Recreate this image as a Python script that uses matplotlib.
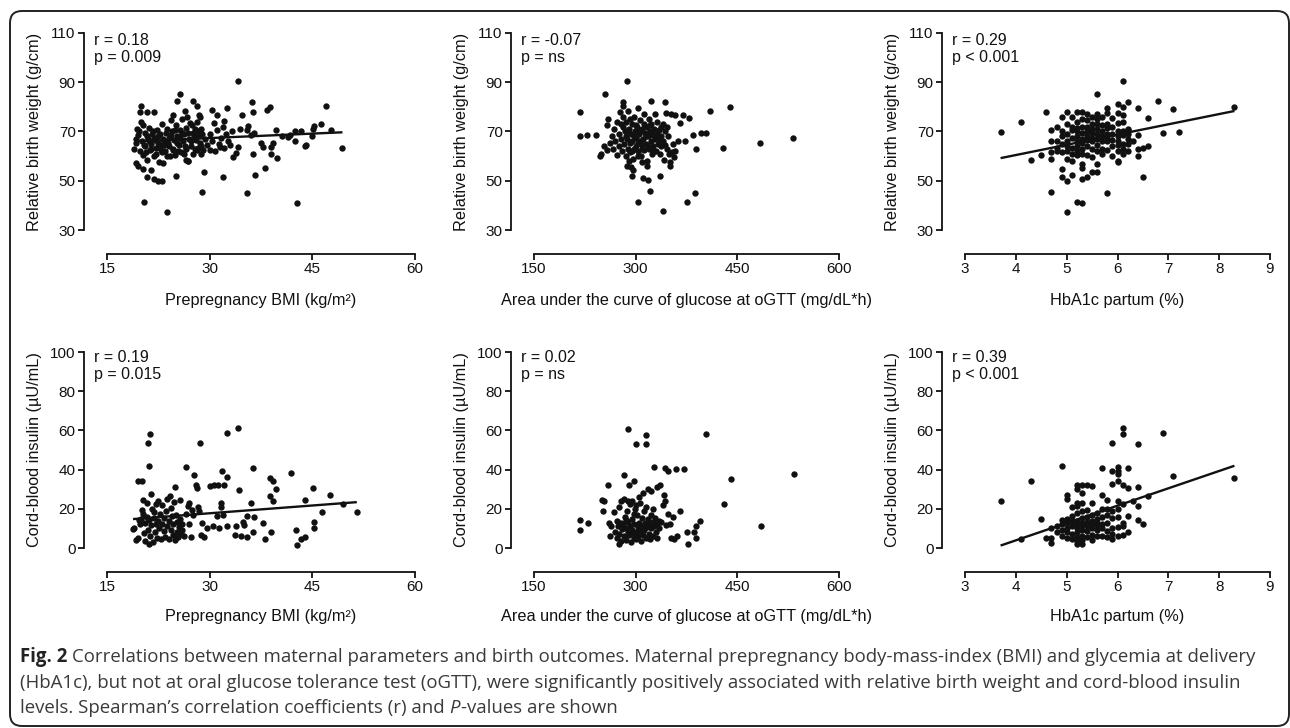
import numpy as np
import matplotlib
matplotlib.use("Agg")
import matplotlib.pyplot as plt
from matplotlib.patches import FancyBboxPatch
from matplotlib.transforms import IdentityTransform

plt.rcParams["font.family"] = ["Liberation Sans", "DejaVu Sans"]

INK = "#111111"

# ---- data: prepregnancy BMI vs relative birth weight ----
bmi_rbw_x = [34.2, 25.6, 25.3, 27.6, 28.1, 20.0, 19.8, 38.8, 38.4, 47.0, 36.2, 36.4, 32.5, 30.3, 34.7,
             20.9, 21.9, 24.7, 26.4, 28.6, 31.0, 32.1, 46.3, 45.2, 45.1, 47.7, 39.7, 42.4, 43.4, 35.6,
             35.4, 34.4, 40.6, 41.5, 41.7, 42.4, 43.9, 44.1, 45.0, 49.4, 39.9, 38.9, 39.0, 39.3, 37.8,
             37.5, 36.3, 38.1, 36.6, 42.7, 35.4, 33.9, 34.1, 33.4, 31.9, 29.1, 28.9, 25.1, 23.7, 20.4,
             20.8, 21.9, 22.5, 23.0, 20.3, 21.5, 19.3, 19.5, 23.2, 26.6, 26.9, 28.8, 31.5, 30.0, 28.1,
             36.0, 36.5,
             19.0, 19.2, 19.4, 19.6, 19.8, 20.0, 20.1, 20.3, 20.5, 20.6, 20.8, 21.0, 21.1, 21.3, 21.5,
             21.6, 21.8, 22.0, 22.1, 22.3, 22.5, 22.6, 22.8, 23.0, 23.1, 23.3, 23.5, 23.6, 23.8, 24.0,
             24.1, 24.3, 24.5, 24.6, 24.8, 25.0, 25.1, 25.3, 25.5, 25.6, 25.8, 26.0, 26.1, 26.3, 26.5,
             26.6, 26.8, 27.0, 27.1, 27.3, 27.5, 27.6, 27.8, 28.0, 28.1, 28.3, 28.5, 28.6, 28.8, 29.0,
             29.3, 29.6, 30.0, 30.3, 30.6, 30.8, 31.1, 31.3, 31.6, 31.9, 32.1, 32.4, 32.7, 33.0, 33.3,
             19.3, 19.7, 20.2, 20.4, 20.7, 20.9, 21.2, 21.4, 21.7, 21.9, 22.2, 22.4, 22.7, 22.9, 23.2,
             23.4, 23.7, 23.9, 24.2, 24.4, 24.7, 24.9, 25.2, 25.4, 25.7, 25.9, 26.2, 26.4, 26.7, 26.9,
             27.2, 27.4, 27.7, 27.9, 28.2, 28.4, 28.7, 28.9]
bmi_rbw_y = [90.6, 85.2, 82.5, 82.2, 80.4, 80.2, 78.1, 79.9, 78.8, 80.4, 81.8, 77.9, 79.5, 78.8, 76.5,
             78.1, 78.1, 76.8, 78.4, 75.8, 76.8, 74.1, 73.1, 72.3, 71.0, 70.7, 70.7, 70.4, 70.0, 72.3,
             70.7, 71.0, 68.0, 67.6, 68.6, 66.0, 64.2, 64.5, 68.2, 63.2, 59.4, 60.9, 63.9, 65.3, 63.9,
             65.3, 60.9, 55.1, 52.4, 41.1, 45.2, 61.4, 63.9, 59.8, 51.7, 53.7, 45.6, 52.0, 37.5, 41.4,
             51.7, 50.7, 49.7, 49.7, 54.7, 54.4, 57.4, 55.8, 57.4, 58.5, 58.2, 60.9, 63.9, 62.3, 62.5,
             68.5, 69.5,
             63.0, 65.5, 71.0, 68.5, 62.0, 74.0, 66.0, 60.5, 69.5, 64.0, 58.5, 67.0, 71.5, 62.5, 65.0,
             69.0, 60.0, 66.5, 63.5, 70.5, 68.0, 57.5, 64.5, 61.5, 73.0, 66.0, 62.0, 69.5, 60.0, 67.5,
             64.0, 74.5, 70.0, 62.5, 66.5, 60.5, 72.5, 68.0, 64.5, 70.5, 61.5, 75.0, 66.0, 69.0, 63.0,
             71.5, 58.0, 67.0, 73.5, 64.0, 69.5, 61.0, 71.0, 66.5, 74.0, 63.5, 68.5, 65.5, 71.0, 62.5,
             67.0, 64.5, 69.0, 66.0, 73.5, 62.0, 70.5, 65.0, 67.5, 72.0, 63.5, 69.0, 66.0, 64.5, 70.0,
             67.0, 70.0, 72.5, 64.5, 61.5, 68.0, 66.0, 63.0, 70.0, 67.5, 61.0, 65.5, 69.0, 62.5, 67.0,
             64.5, 71.0, 65.5, 60.0, 68.5, 63.0, 70.5, 65.5, 62.0, 67.5, 69.5, 61.0, 64.0, 76.0, 69.5,
             66.0, 72.5, 68.0, 63.0, 70.0, 76.5, 64.0, 69.0]

# ---- data: oGTT glucose AUC vs relative birth weight ----
auc_rbw_x = [217.4, 217.4, 228.7, 241.0, 254.3, 287.2, 281.3, 282.0, 322.1, 342.8, 410.2, 439.7, 532.1,
             483.0, 428.9, 403.8, 396.5, 389.5, 384.6, 372.3, 362.5, 369.7, 364.8, 378.7, 387.0, 376.2,
             340.3, 303.4, 320.6, 335.4, 318.2, 310.8, 316.7, 294.2, 296.7, 293.0, 350.3, 351.2, 356.1,
             246.9, 249.5, 254.0, 258.0, 257.0, 259.0, 262.0, 352.0, 358.0, 345.0, 355.0, 358.0, 346.0,
             342.0, 353.0, 338.0,
             265, 267, 268, 270, 272, 273, 275, 276, 277, 278, 280, 281, 282, 283, 284, 285, 286, 287,
             288, 289, 290, 291, 292, 293, 294, 295, 296, 297, 298, 299, 300, 301, 302, 303, 304, 305,
             306, 307, 308, 309, 310, 311, 312, 313, 314, 315, 316, 317, 318, 319, 320, 321, 322, 323,
             324, 325, 326, 327, 328, 329, 330, 331, 332, 333, 334, 335, 336, 337, 338, 340, 341, 343,
             344, 346, 348, 349,
             279, 285, 288, 292, 295, 297, 300, 303, 306, 309, 312, 315, 318, 321, 324, 327, 303, 290,
             287, 310]
auc_rbw_y = [78.1, 68.0, 68.6, 68.6, 85.2, 90.6, 82.0, 80.5, 82.5, 81.8, 78.5, 79.9, 67.3,
             65.3, 63.2, 69.3, 69.3, 62.9, 68.6, 66.0, 66.0, 76.8, 73.4, 75.4, 45.2, 41.2,
             37.9, 41.5, 45.8, 52.0, 50.3, 51.0, 55.8, 52.0, 54.4, 55.5, 55.8, 57.8, 59.8,
             60.2, 61.0, 64.0, 62.5, 72.5, 75.0, 65.5, 77.0, 76.5, 77.5, 65.0, 62.0, 63.0,
             58.5, 61.5, 64.0,
             68, 63, 71, 66, 60.5, 74, 69, 64, 78, 67, 62, 72, 76, 65, 70, 60, 74, 67,
             63, 78.5, 71, 65.5, 61.5, 69, 73, 66, 59, 76, 63, 70, 67.5, 64, 72, 79.5, 62, 69,
             66, 74.5, 60, 71, 64.5, 67, 77, 62.5, 69.5, 65, 72, 58, 68, 75, 63, 70, 66, 73,
             61, 68.5, 64, 71, 67, 77, 62, 69, 74, 65, 70.5, 67, 61, 72, 68, 73, 66, 70,
             64.5, 72, 68, 61,
             73, 68, 70, 75, 62, 68, 72.5, 65.5, 70, 63, 73, 68, 64, 72.5, 69, 62, 60, 58,
             56, 57.5]

# ---- data: HbA1c partum vs relative birth weight ----
hba1c_rbw_x = [3.7, 4.1, 4.3, 4.5, 4.6, 4.7, 5.0, 5.2, 5.3, 5.8, 5.6, 6.1, 6.2, 6.8, 7.1, 7.2, 6.9, 6.6,
               6.4, 6.6, 6.5, 8.3, 4.9, 5.0, 5.1, 5.3, 5.4, 5.5, 5.6, 4.9, 5.3, 6.0, 5.6, 4.7, 4.7, 4.7,
               4.7, 4.8, 4.8, 6.4, 6.4, 6.4, 6.5, 6.3, 6.2, 6.2,
               4.8, 4.8,
               4.9, 4.9, 4.9, 4.9, 4.9,
               5.0, 5.0, 5.0, 5.0, 5.0, 5.0, 5.0,
               5.1, 5.1, 5.1, 5.1, 5.1, 5.1, 5.1,
               5.2, 5.2, 5.2, 5.2, 5.2, 5.2, 5.2, 5.2, 5.2,
               5.3, 5.3, 5.3, 5.3, 5.3, 5.3, 5.3, 5.3, 5.3,
               5.4, 5.4, 5.4, 5.4, 5.4, 5.4, 5.4, 5.4,
               5.5, 5.5, 5.5, 5.5, 5.5, 5.5, 5.5, 5.5,
               5.6, 5.6, 5.6, 5.6, 5.6, 5.6, 5.6, 5.6,
               5.7, 5.7, 5.7, 5.7, 5.7, 5.7, 5.7,
               5.8, 5.8, 5.8, 5.8, 5.8, 5.8, 5.8, 5.8,
               5.9, 5.9, 5.9, 5.9, 5.9, 5.9,
               6.0, 6.0, 6.0, 6.0, 6.0, 6.0, 6.0, 6.0, 6.0,
               6.1, 6.1, 6.1, 6.1, 6.1, 6.1, 6.1, 6.1,
               6.2, 6.2, 6.2, 6.2]
hba1c_rbw_y = [69.7, 73.8, 58.5, 60.5, 78.1, 45.6, 37.5, 41.3, 40.9, 45.2, 85.2, 90.6, 81.8, 82.2, 79.2,
               69.7, 69.3, 64.3, 79.5, 75.4, 51.7, 79.9, 51.7, 49.7, 52.4, 50.7, 51.7, 53.7, 53.7, 54.7,
               55.1, 57.8, 57.0, 59.0, 61.5, 66.0, 70.5, 63.5, 72.0, 63.0, 60.0, 68.5, 63.5, 66.0, 70.5,
               65.0,
               62, 66,
               61.5, 65, 68, 70, 76,
               59, 62, 64, 66, 69, 73, 78,
               58, 61, 63.5, 67.5, 70.5, 72, 76,
               60.5, 62, 64, 66, 68, 70, 71.5, 74, 78,
               57, 61, 63, 65.5, 67, 69.5, 72, 75, 78,
               60.5, 64, 66.5, 68, 70, 72, 74.5, 77,
               59.5, 63, 66, 67.5, 69.5, 71, 73, 76,
               62, 64.5, 67, 69, 71, 73, 75, 77,
               61, 63, 66, 68, 70, 72.5, 76,
               62.5, 66, 67.5, 69, 71.5, 73, 77.5, 79.5,
               60, 64, 66.5, 69, 72, 75.5,
               58, 62, 64.5, 66, 68, 70, 73.5, 77.5, 81,
               61, 63, 65, 68.5, 70, 74, 76.5, 80,
               62, 67, 69, 71]

# ---- data: prepregnancy BMI vs cord-blood insulin ----
bmi_ins_x = [21.0, 21.3, 21.1, 28.6, 32.5, 34.2, 26.6, 27.7, 31.8, 32.5, 36.3, 41.9, 38.8, 39.3, 39.7,
             45.1, 47.6, 34.3, 19.5, 20.1, 24.9, 30.0, 30.7, 31.2, 32.1, 28.2, 28.0, 36.0, 38.8, 39.3,
             43.9, 46.4, 49.5, 51.5, 42.6, 43.4, 43.9, 42.7, 45.2, 45.2, 38.1, 37.8, 39.0, 35.4, 34.6,
             33.7, 36.4, 36.5, 35.5, 34.9, 35.0, 33.8, 32.5, 31.4, 30.5, 32.0, 31.1, 31.7, 31.6, 27.0,
             26.8, 28.3, 28.5, 27.4, 28.9, 28.7, 29.2, 29.6, 27.6, 26.5, 27.0, 26.2, 27.2,
             18.8, 19.0, 19.3, 19.6, 19.8, 20.0, 20.1, 20.2, 20.4, 20.5, 20.6, 20.8, 20.9, 21.0, 21.1,
             21.2, 21.3, 21.4, 21.5, 21.6, 21.7, 21.8, 22.0, 22.1, 22.2, 22.3, 22.5, 22.6, 22.7, 22.9,
             23.0, 23.1, 23.3, 23.4, 23.5, 23.7, 23.8, 24.0, 24.1, 24.2, 24.3, 24.5, 24.6, 24.7, 24.8,
             25.0, 25.1, 25.2, 25.3, 25.4, 25.5, 25.6, 25.7, 25.8, 26.0, 20.3, 21.9, 23.6, 22.4, 19.7,
             24.4, 25.9]
bmi_ins_y = [53.4, 58.0, 41.9, 53.4, 58.8, 61.4, 41.2, 37.3, 39.5, 36.4, 41.0, 38.1, 35.6, 34.0, 30.2,
             30.8, 27.1, 29.7, 34.2, 34.2, 31.0, 31.7, 32.2, 32.2, 32.2, 30.5, 32.2, 22.9, 26.3, 24.2,
             24.6, 18.6, 22.5, 18.3, 9.3, 4.6, 5.4, 1.7, 13.1, 10.0, 4.6, 12.7, 8.0, 5.6, 6.3,
             6.8, 8.0, 15.8, 16.4, 13.1, 11.5, 11.4, 11.0, 10.3, 11.0, 16.8, 16.1, 23.2, 21.0, 23.0,
             21.5, 21.0, 19.0, 19.5, 13.0, 6.5, 5.5, 10.0, 17.0, 17.5, 12.0, 6.0, 5.5,
             9.5, 10.0, 4.0, 5.0, 12.5, 15.0, 19.5, 24.5, 7.5, 13.0, 3.5, 16.0, 23.0, 9.0, 2.0,
             14.5, 6.0, 27.5, 11.5, 20.0, 3.0, 15.5, 8.0, 22.5, 12.5, 5.0, 14.0, 10.0, 17.5, 4.5,
             12.0, 22.0, 8.5, 15.5, 5.5, 11.0, 25.0, 14.0, 4.5, 26.5, 9.0, 16.5, 6.5, 12.5, 23.5,
             4.0, 17.0, 8.0, 13.5, 5.5, 10.5, 15.0, 24.5, 7.0, 12.0, 17.5, 18.5, 19.0, 24.0, 14.5,
             20.5, 9.0]

# ---- data: oGTT glucose AUC vs cord-blood insulin ----
auc_ins_x = [217.8, 217.8, 229.2, 251.0, 254.0, 252.5, 258.9, 288.1, 300.5, 315.3, 315.3, 282.2, 297.0,
             327.7, 344.0, 347.5, 358.9, 371.3, 403.4, 440.6, 429.7, 485.1, 533.6, 395.0, 388.6, 386.1,
             388.6, 375.2, 377.7, 364.8, 361.4, 351.5, 341.6, 343.0, 336.6, 331.6, 274.7, 262.4, 264.0,
             260.0, 268.0, 272.0, 275.0, 278.0, 283.0, 290.0, 323.0, 318.0, 311.0, 340.0, 348.0, 355.0,
             350.0, 345.0, 356.0, 338.0,
             270, 272, 274, 276, 278, 279, 280, 282, 283, 284, 285, 286, 287, 288, 289, 290, 291, 292,
             293, 294, 295, 296, 297, 298, 299, 300, 301, 302, 303, 304, 305, 306, 307, 308, 309, 310,
             311, 312, 313, 314, 315, 316, 318, 319, 320, 321, 322, 323, 325, 326, 327, 328, 330, 331,
             332, 334, 335, 295, 300, 305, 289, 315, 325, 285, 297]
auc_ins_y = [9.0, 14.5, 12.8, 24.7, 24.2, 18.9, 32.0, 60.9, 52.9, 57.5, 52.9, 37.1, 34.0,
             41.3, 40.8, 39.3, 40.5, 40.5, 58.0, 35.4, 22.3, 11.1, 37.9, 13.6, 11.1, 8.2,
             5.3, 8.2, 1.9, 18.9, 6.0, 5.3, 26.9, 24.0, 32.0, 31.1, 1.9, 6.0, 11.0,
             13.0, 18.5, 14.0, 21.0, 24.0, 25.0, 32.0, 29.0, 30.0, 28.0, 22.0, 17.5, 16.0,
             12.0, 11.5, 4.5, 13.5,
             8, 5, 11, 7, 13, 3.5, 9.5, 12, 6, 16, 10, 4, 19, 8, 13.5, 6.5, 11, 22.5,
             3, 9, 15, 7.5, 5, 12.5, 20, 8, 4.5, 17, 10.5, 6, 13, 23, 8.5, 3.5, 15.5, 11,
             6.5, 19, 9, 13, 5, 10.5, 15, 7, 12, 4.5, 17, 10, 13.5, 6, 11, 15.5, 8, 12.5,
             5, 10, 14, 24, 22, 26, 24, 21, 20, 14.5, 17.5]

# ---- data: HbA1c partum vs cord-blood insulin ----
hba1c_ins_x = [3.7, 4.1, 4.3, 4.5, 4.9, 5.0, 5.0, 5.9, 6.1, 6.1, 6.4, 6.9, 7.1, 8.3, 6.6, 6.5, 6.4, 5.7,
               6.0, 6.0, 6.2, 5.9, 6.0, 5.9, 6.0, 6.1, 6.2, 6.4, 6.4, 6.3, 5.2, 5.3, 5.4, 5.5, 5.2, 5.3,
               5.7, 5.8, 6.0, 6.1, 4.7, 4.7, 4.7, 4.6, 4.8, 4.8, 6.2, 6.2, 6.1, 6.1, 6.0, 6.1, 5.9, 5.9,
               5.9,
               4.9, 4.9, 4.9, 4.9,
               5.0, 5.0, 5.0, 5.0, 5.0,
               5.1, 5.1, 5.1, 5.1, 5.1, 5.1,
               5.2, 5.2, 5.2, 5.2, 5.2, 5.2, 5.2, 5.2, 5.2, 5.2,
               5.3, 5.3, 5.3, 5.3, 5.3, 5.3, 5.3, 5.3, 5.3,
               5.4, 5.4, 5.4, 5.4, 5.4, 5.4,
               5.5, 5.5, 5.5, 5.5, 5.5, 5.5, 5.5,
               5.6, 5.6, 5.6, 5.6, 5.6, 5.6,
               5.7, 5.7, 5.7, 5.7, 5.7,
               5.8, 5.8, 5.8, 5.8, 5.8,
               5.9, 5.9,
               6.0, 6.0, 6.0]
hba1c_ins_y = [24.1, 4.6, 34.4, 14.7, 41.9, 27.0, 25.0, 53.4, 61.0, 58.0, 53.1, 58.8, 36.8, 35.9, 26.3,
               12.4, 14.4, 41.0, 41.2, 39.3, 41.0, 39.5, 37.6, 32.5, 34.2, 31.9, 30.5, 31.0, 21.5, 24.1,
               32.0, 32.0, 32.0, 31.5, 30.0, 28.0, 27.0, 24.5, 24.0, 22.5, 10.0, 5.0, 2.5, 5.0, 8.0,
               11.0, 8.0, 16.5, 6.5, 11.0, 10.5, 13.0, 4.5, 10.0, 19.0,
               6, 9, 12, 14.5,
               5, 8, 10, 13, 15,
               4.5, 7, 11, 14, 16.5, 21,
               2, 3.5, 5.5, 8, 10, 12.5, 14, 18, 21.5, 23,
               2, 4, 6, 9, 11.5, 13, 15.5, 19, 23,
               5.5, 8.5, 11, 13.5, 16, 19.5,
               4, 6.5, 10, 12, 14, 17, 23,
               6, 9, 11.5, 13, 15, 18,
               6, 10, 12.5, 16, 20,
               5.5, 8.5, 13, 17, 20,
               7, 15.5,
               6, 16, 20]

# regression lines: (slope, intercept), None = no line
fit_bmi_rbw = (0.121, 63.7)
fit_hba1c_rbw = (4.16, 43.8)
fit_bmi_ins = (0.264, 9.8)
fit_hba1c_ins = (8.85, -31.5)

stats_labels = [("r = 0.18", "p = 0.009"), ("r = -0.07", "p = ns"), ("r = 0.29", "p < 0.001"),
                ("r = 0.19", "p = 0.015"), ("r = 0.02", "p = ns"), ("r = 0.39", "p < 0.001")]

x_labels = ["Prepregnancy BMI (kg/m²)", "Area under the curve of glucose at oGTT (mg/dL*h)",
            "HbA1c partum (%)"]
y_labels = ["Relative birth weight (g/cm)", "Cord-blood insulin (µU/mL)"]
x_ticks = [[15, 30, 45, 60], [150, 300, 450, 600], [3, 4, 5, 6, 7, 8, 9]]
y_ticks = [[30, 50, 70, 90, 110], [0, 20, 40, 60, 80, 100]]

caption_bold = "Fig. 2"
caption_lines = [
    "Correlations between maternal parameters and birth outcomes. Maternal prepregnancy "
    "body-mass-index (BMI) and glycemia at delivery",
    "(HbA1c), but not at oral glucose tolerance test (oGTT), were significantly positively "
    "associated with relative birth weight and cord-blood insulin",
    "levels. Spearman’s correlation coefficients (r) and",
]

panels = [
    (bmi_rbw_x, bmi_rbw_y, fit_bmi_rbw),
    (auc_rbw_x, auc_rbw_y, None),
    (hba1c_rbw_x, hba1c_rbw_y, fit_hba1c_rbw),
    (bmi_ins_x, bmi_ins_y, fit_bmi_ins),
    (auc_ins_x, auc_ins_y, None),
    (hba1c_ins_x, hba1c_ins_y, fit_hba1c_ins),
]

W, H = 1290, 728
fig = plt.figure(figsize=(W / 100, H / 100), dpi=100)
fig.patch.set_facecolor("white")

# outer rounded frame
frame = FancyBboxPatch((10, 2), 1279, 715, boxstyle="round,pad=0,rounding_size=12",
                       transform=IdentityTransform(), facecolor="none",
                       edgecolor="#222222", linewidth=1.4)
fig.add_artist(frame)

col_px = [(107, 415), (534, 839), (965, 1270)]
row_px = [(33, 230), (352, 548)]
px2pt = 0.72

for i, (xs, ys, fit) in enumerate(panels):
    r, c = divmod(i, 3)
    x0, x1 = col_px[c]
    yt, yb = row_px[r]
    ax = fig.add_axes([x0 / W, 1 - yb / H, (x1 - x0) / W, (yb - yt) / H])

    ax.scatter(xs, ys, s=21, color=INK, linewidths=0, clip_on=False, zorder=3)
    if fit is not None:
        lx = np.array([min(xs), max(xs)])
        ax.plot(lx, fit[0] * lx + fit[1], color=INK, linewidth=1.7, solid_capstyle="butt",
                zorder=4)

    ax.set_xlim(x_ticks[c][0], x_ticks[c][-1])
    ax.set_ylim(y_ticks[r][0], y_ticks[r][-1])
    ax.set_xticks(x_ticks[c])
    ax.set_yticks(y_ticks[r])

    for side in ("top", "right"):
        ax.spines[side].set_visible(False)
    ax.spines["left"].set_position(("outward", 23 * px2pt))
    ax.spines["bottom"].set_position(("outward", 24 * px2pt))
    for side in ("left", "bottom"):
        ax.spines[side].set_linewidth(1.3)
        ax.spines[side].set_color(INK)
    ax.tick_params(direction="out", length=4, width=1.3, labelsize=11, pad=2,
                   color=INK, labelcolor=INK)

    ax.set_xlabel(x_labels[c], fontsize=11.7, color=INK)
    ax.xaxis.set_label_coords(0.5, -0.32 if r == 0 else -0.31)
    ax.set_ylabel(y_labels[r], fontsize=11.7, color=INK)
    ax.yaxis.set_label_coords(-0.212, 0.5)

    rtxt, ptxt = stats_labels[i]
    ty = (0.962, 0.876) if r == 0 else (0.972, 0.886)
    ax.text(-0.042, ty[0], rtxt, transform=ax.transAxes, fontsize=11.5, color=INK,
            va="center", ha="left")
    ax.text(-0.042, ty[1], ptxt, transform=ax.transAxes, fontsize=11.5, color=INK,
            va="center", ha="left")

# ---- caption ----
renderer = fig.canvas.get_renderer()
cap_family = ["Open Sans", "DejaVu Sans"]
cap_color = "#3a3a3a"


def text_width(s, **kw):
    t = fig.text(0, 0, s, **kw)
    w = t.get_window_extent(renderer).width
    t.remove()
    return w


base = 12
w_line1 = (text_width(caption_bold, family=cap_family, fontsize=base, weight="bold")
           + text_width("x x", family=cap_family, fontsize=base)
           - text_width("xx", family=cap_family, fontsize=base)
           + text_width(caption_lines[0], family=cap_family, fontsize=base))
fs = base * (1247 - 20) / w_line1
space = (text_width("x x", family=cap_family, fontsize=fs)
         - text_width("xx", family=cap_family, fontsize=fs))

line_y = [657, 683, 708]
x_left = 20
t = fig.text(x_left / W, 1 - line_y[0] / H, caption_bold, family=cap_family, fontsize=fs,
             weight="bold", color="#222222", va="center", ha="left")
bw = t.get_window_extent(renderer).width
fig.text((x_left + bw + space) / W, 1 - line_y[0] / H, caption_lines[0], family=cap_family,
         fontsize=fs, color=cap_color, va="center", ha="left")
fig.text(x_left / W, 1 - line_y[1] / H, caption_lines[1], family=cap_family, fontsize=fs,
         color=cap_color, va="center", ha="left")
fig.text(x_left / W, 1 - line_y[2] / H, caption_lines[2], family=cap_family, fontsize=fs,
         color=cap_color, va="center", ha="left")
x3 = x_left + text_width(caption_lines[2], family=cap_family, fontsize=fs) + space
tp = fig.text(x3 / W, 1 - line_y[2] / H, "P", family=cap_family, fontsize=fs, style="italic",
              color=cap_color, va="center", ha="left")
pw = tp.get_window_extent(renderer).width
fig.text((x3 + pw + 1) / W, 1 - line_y[2] / H, "-values are shown", family=cap_family,
         fontsize=fs, color=cap_color, va="center", ha="left")

fig.savefig("out.png", dpi=100, facecolor="white")
